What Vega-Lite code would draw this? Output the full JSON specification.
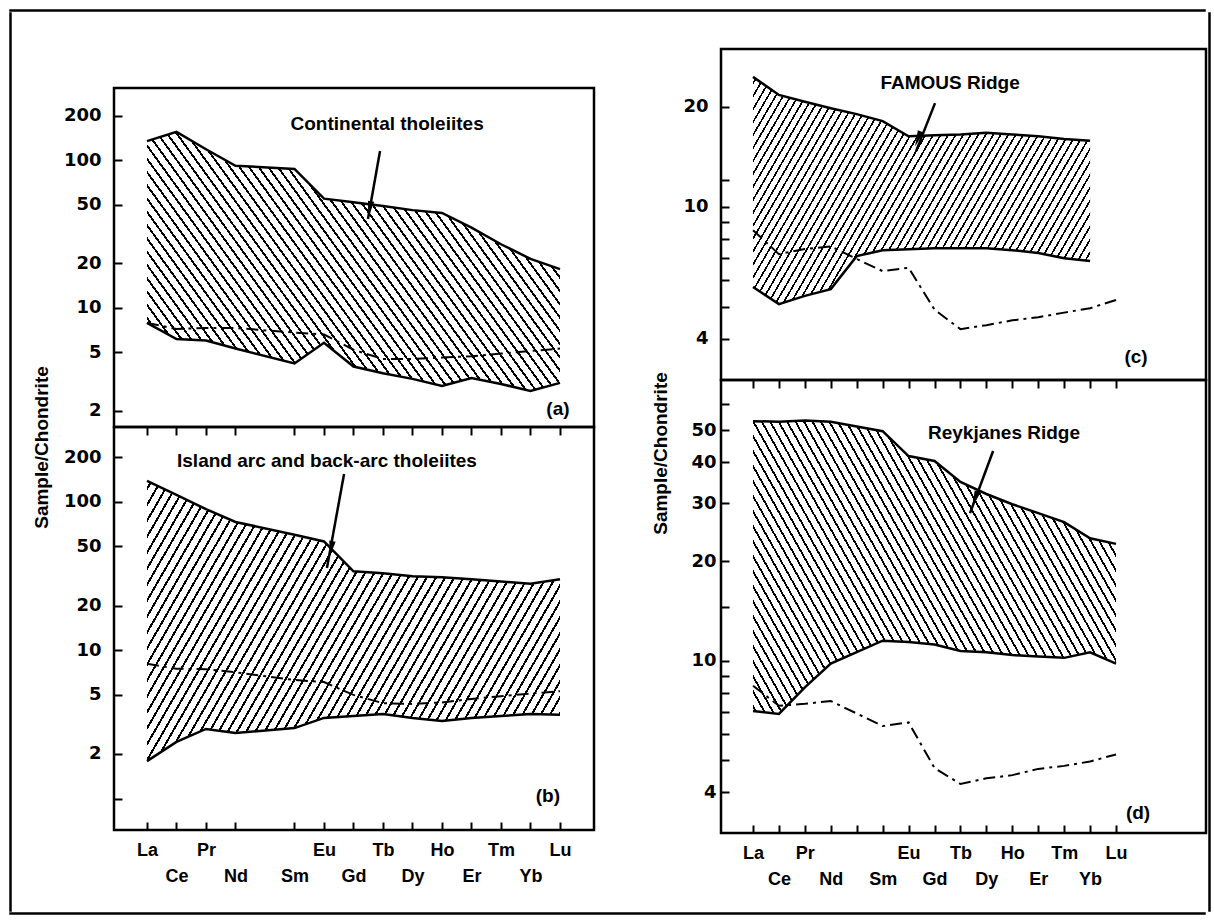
{
"$schema": "https://vega.github.io/schema/vega-lite/v6.json",
"padding": {"left": 9, "top": 9, "right": 5, "bottom": 5},
"background": "white",
"spacing": 0,
"datasets": {
"a": [
{"el":"La","i":0,"hi":135,"lo":7.9,"m":7.9},
{"el":"Ce","i":1,"hi":156,"lo":6.15,"m":7.2},
{"el":"Pr","i":2,"hi":119,"lo":6.0,"m":7.3},
{"el":"Nd","i":3,"hi":92,"lo":5.3,"m":7.3},
{"el":"Sm","i":5,"hi":87.5,"lo":4.2,"m":6.8},
{"el":"Eu","i":6,"hi":55,"lo":5.8,"m":6.6},
{"el":"Gd","i":7,"hi":52,"lo":4.0,"m":5.2},
{"el":"Tb","i":8,"hi":49,"lo":3.6,"m":4.5},
{"el":"Dy","i":9,"hi":46,"lo":3.3,"m":4.5},
{"el":"Ho","i":10,"hi":44,"lo":2.95,"m":4.6},
{"el":"Er","i":11,"hi":35,"lo":3.35,"m":4.7},
{"el":"Tm","i":12,"hi":27,"lo":3.05,"m":4.9},
{"el":"Yb","i":13,"hi":21.5,"lo":2.73,"m":5.1},
{"el":"Lu","i":14,"hi":18.3,"lo":3.1,"m":5.3}
],
"b": [
{"el":"La","i":0,"hi":138,"lo":1.79,"m":8.1},
{"el":"Ce","i":1,"hi":111,"lo":2.41,"m":7.5},
{"el":"Pr","i":2,"hi":89,"lo":2.95,"m":7.45},
{"el":"Nd","i":3,"hi":73,"lo":2.77,"m":7.1},
{"el":"Sm","i":5,"hi":60,"lo":2.99,"m":6.3},
{"el":"Eu","i":6,"hi":54,"lo":3.5,"m":6.1},
{"el":"Gd","i":7,"hi":34,"lo":3.6,"m":5.0},
{"el":"Tb","i":8,"hi":33,"lo":3.72,"m":4.4},
{"el":"Dy","i":9,"hi":31.5,"lo":3.5,"m":4.35},
{"el":"Ho","i":10,"hi":31,"lo":3.34,"m":4.45},
{"el":"Er","i":11,"hi":30,"lo":3.5,"m":4.7},
{"el":"Tm","i":12,"hi":29,"lo":3.6,"m":4.9},
{"el":"Yb","i":13,"hi":28,"lo":3.72,"m":5.1},
{"el":"Lu","i":14,"hi":30,"lo":3.67,"m":5.3}
],
"c": [
{"el":"La","i":0,"hi":24.6,"lo":5.73,"m":8.5},
{"el":"Ce","i":1,"hi":21.7,"lo":5.09,"m":7.2},
{"el":"Pr","i":2,"hi":20.7,"lo":5.39,"m":7.46},
{"el":"Nd","i":3,"hi":19.8,"lo":5.65,"m":7.6},
{"el":"Pm","i":4,"hi":19.0,"lo":7.1,"m":6.96},
{"el":"Sm","i":5,"hi":18.1,"lo":7.4,"m":6.4},
{"el":"Eu","i":6,"hi":16.3,"lo":7.45,"m":6.55},
{"el":"Gd","i":7,"hi":16.4,"lo":7.5,"m":4.9},
{"el":"Tb","i":8,"hi":16.5,"lo":7.5,"m":4.28},
{"el":"Dy","i":9,"hi":16.7,"lo":7.5,"m":4.4},
{"el":"Ho","i":10,"hi":16.5,"lo":7.4,"m":4.55},
{"el":"Er","i":11,"hi":16.3,"lo":7.26,"m":4.65},
{"el":"Tm","i":12,"hi":16.0,"lo":7.0,"m":4.8},
{"el":"Yb","i":13,"hi":15.8,"lo":6.86,"m":4.95},
{"el":"Lu","i":14,"hi":null,"lo":null,"m":5.24}
],
"d": [
{"el":"La","i":0,"hi":53.2,"lo":7.04,"m":8.4},
{"el":"Ce","i":1,"hi":53,"lo":6.9,"m":7.3},
{"el":"Pr","i":2,"hi":53.4,"lo":8.3,"m":7.4},
{"el":"Nd","i":3,"hi":53,"lo":9.8,"m":7.55},
{"el":"Sm","i":5,"hi":49.6,"lo":11.5,"m":6.34},
{"el":"Eu","i":6,"hi":41.7,"lo":11.4,"m":6.5},
{"el":"Gd","i":7,"hi":40.3,"lo":11.2,"m":4.73},
{"el":"Tb","i":8,"hi":34.8,"lo":10.7,"m":4.23},
{"el":"Dy","i":9,"hi":32,"lo":10.6,"m":4.4},
{"el":"Ho","i":10,"hi":29.8,"lo":10.4,"m":4.5},
{"el":"Er","i":11,"hi":28,"lo":10.3,"m":4.7},
{"el":"Tm","i":12,"hi":26.3,"lo":10.2,"m":4.8},
{"el":"Yb","i":13,"hi":23.5,"lo":10.6,"m":4.95},
{"el":"Lu","i":14,"hi":22.6,"lo":9.8,"m":5.2}
],
"ann": [
{"p":"a","label":"Continental tholeiites","tx":8.14,"ty":176.5,"x1":7.9,"y1":115.8,"x2":7.49,"y2":40.1,"hx":7.55,"hy":46.7,"tag":"(a)","gx":13.93,"gy":2.06},
{"p":"b","label":"Island arc and back-arc tholeiites","tx":6.1,"ty":188,"x1":6.68,"y1":153.6,"x2":6.1,"y2":35.8,"hx":6.24,"hy":48,"tag":"(b)","gx":13.59,"gy":1.04},
{"p":"c","label":"FAMOUS Ridge","tx":7.6,"ty":23.6,"x1":7.02,"y1":20.5,"x2":6.29,"y2":14.7,"hx":6.36,"hy":16.0,"tag":"(c)","gx":14.77,"gy":3.53},
{"p":"d","label":"Reykjanes Ridge","tx":9.68,"ty":49,"x1":9.26,"y1":43.2,"x2":8.37,"y2":28.0,"hx":8.56,"hy":30.9,"tag":"(d)","gx":14.85,"gy":3.46}
]
},
"config": {
"view": {"stroke": "black", "strokeWidth": 2.5},
"font": "Liberation Sans",
"axis": {"domain": false, "grid": false, "tickColor": "black", "tickWidth": 2, "labelColor": "black", "labelFont": "Liberation Sans", "labelFontSize": 18, "labelFontWeight": "bold", "labelFlush": false, "labelOverlap": false, "titleFont": "Liberation Sans", "titleFontSize": 19, "titleFontWeight": "bold", "titleColor": "black"},
"style": {
"hatchA": {"color": {"gradient": "linear", "x1": 0, "y1": 1, "x2": 1.2055, "y2": 0.452, "stops": [
{"offset":0.006,"color":"#fff"},{"offset":0.006,"color":"#000"},{"offset":0.01,"color":"#000"},{"offset":0.01,"color":"#fff"},
{"offset":0.022,"color":"#fff"},{"offset":0.022,"color":"#000"},{"offset":0.026,"color":"#000"},{"offset":0.026,"color":"#fff"},
{"offset":0.038,"color":"#fff"},{"offset":0.038,"color":"#000"},{"offset":0.042,"color":"#000"},{"offset":0.042,"color":"#fff"},
{"offset":0.054,"color":"#fff"},{"offset":0.054,"color":"#000"},{"offset":0.058,"color":"#000"},{"offset":0.058,"color":"#fff"},
{"offset":0.07,"color":"#fff"},{"offset":0.07,"color":"#000"},{"offset":0.074,"color":"#000"},{"offset":0.074,"color":"#fff"},
{"offset":0.086,"color":"#fff"},{"offset":0.086,"color":"#000"},{"offset":0.09,"color":"#000"},{"offset":0.09,"color":"#fff"},
{"offset":0.102,"color":"#fff"},{"offset":0.102,"color":"#000"},{"offset":0.106,"color":"#000"},{"offset":0.106,"color":"#fff"},
{"offset":0.118,"color":"#fff"},{"offset":0.118,"color":"#000"},{"offset":0.122,"color":"#000"},{"offset":0.122,"color":"#fff"},
{"offset":0.134,"color":"#fff"},{"offset":0.134,"color":"#000"},{"offset":0.138,"color":"#000"},{"offset":0.138,"color":"#fff"},
{"offset":0.15,"color":"#fff"},{"offset":0.15,"color":"#000"},{"offset":0.154,"color":"#000"},{"offset":0.154,"color":"#fff"},
{"offset":0.166,"color":"#fff"},{"offset":0.166,"color":"#000"},{"offset":0.17,"color":"#000"},{"offset":0.17,"color":"#fff"},
{"offset":0.182,"color":"#fff"},{"offset":0.182,"color":"#000"},{"offset":0.186,"color":"#000"},{"offset":0.186,"color":"#fff"},
{"offset":0.198,"color":"#fff"},{"offset":0.198,"color":"#000"},{"offset":0.202,"color":"#000"},{"offset":0.202,"color":"#fff"},
{"offset":0.214,"color":"#fff"},{"offset":0.214,"color":"#000"},{"offset":0.218,"color":"#000"},{"offset":0.218,"color":"#fff"},
{"offset":0.23,"color":"#fff"},{"offset":0.23,"color":"#000"},{"offset":0.234,"color":"#000"},{"offset":0.234,"color":"#fff"},
{"offset":0.246,"color":"#fff"},{"offset":0.246,"color":"#000"},{"offset":0.25,"color":"#000"},{"offset":0.25,"color":"#fff"},
{"offset":0.262,"color":"#fff"},{"offset":0.262,"color":"#000"},{"offset":0.266,"color":"#000"},{"offset":0.266,"color":"#fff"},
{"offset":0.278,"color":"#fff"},{"offset":0.278,"color":"#000"},{"offset":0.282,"color":"#000"},{"offset":0.282,"color":"#fff"},
{"offset":0.294,"color":"#fff"},{"offset":0.294,"color":"#000"},{"offset":0.298,"color":"#000"},{"offset":0.298,"color":"#fff"},
{"offset":0.31,"color":"#fff"},{"offset":0.31,"color":"#000"},{"offset":0.314,"color":"#000"},{"offset":0.314,"color":"#fff"},
{"offset":0.326,"color":"#fff"},{"offset":0.326,"color":"#000"},{"offset":0.33,"color":"#000"},{"offset":0.33,"color":"#fff"},
{"offset":0.342,"color":"#fff"},{"offset":0.342,"color":"#000"},{"offset":0.346,"color":"#000"},{"offset":0.346,"color":"#fff"},
{"offset":0.358,"color":"#fff"},{"offset":0.358,"color":"#000"},{"offset":0.362,"color":"#000"},{"offset":0.362,"color":"#fff"},
{"offset":0.374,"color":"#fff"},{"offset":0.374,"color":"#000"},{"offset":0.378,"color":"#000"},{"offset":0.378,"color":"#fff"},
{"offset":0.39,"color":"#fff"},{"offset":0.39,"color":"#000"},{"offset":0.394,"color":"#000"},{"offset":0.394,"color":"#fff"},
{"offset":0.406,"color":"#fff"},{"offset":0.406,"color":"#000"},{"offset":0.41,"color":"#000"},{"offset":0.41,"color":"#fff"},
{"offset":0.422,"color":"#fff"},{"offset":0.422,"color":"#000"},{"offset":0.426,"color":"#000"},{"offset":0.426,"color":"#fff"},
{"offset":0.438,"color":"#fff"},{"offset":0.438,"color":"#000"},{"offset":0.442,"color":"#000"},{"offset":0.442,"color":"#fff"},
{"offset":0.454,"color":"#fff"},{"offset":0.454,"color":"#000"},{"offset":0.458,"color":"#000"},{"offset":0.458,"color":"#fff"},
{"offset":0.47,"color":"#fff"},{"offset":0.47,"color":"#000"},{"offset":0.474,"color":"#000"},{"offset":0.474,"color":"#fff"},
{"offset":0.486,"color":"#fff"},{"offset":0.486,"color":"#000"},{"offset":0.49,"color":"#000"},{"offset":0.49,"color":"#fff"},
{"offset":0.502,"color":"#fff"},{"offset":0.502,"color":"#000"},{"offset":0.506,"color":"#000"},{"offset":0.506,"color":"#fff"},
{"offset":0.518,"color":"#fff"},{"offset":0.518,"color":"#000"},{"offset":0.522,"color":"#000"},{"offset":0.522,"color":"#fff"},
{"offset":0.534,"color":"#fff"},{"offset":0.534,"color":"#000"},{"offset":0.538,"color":"#000"},{"offset":0.538,"color":"#fff"},
{"offset":0.55,"color":"#fff"},{"offset":0.55,"color":"#000"},{"offset":0.554,"color":"#000"},{"offset":0.554,"color":"#fff"},
{"offset":0.566,"color":"#fff"},{"offset":0.566,"color":"#000"},{"offset":0.57,"color":"#000"},{"offset":0.57,"color":"#fff"},
{"offset":0.582,"color":"#fff"},{"offset":0.582,"color":"#000"},{"offset":0.586,"color":"#000"},{"offset":0.586,"color":"#fff"},
{"offset":0.598,"color":"#fff"},{"offset":0.598,"color":"#000"},{"offset":0.602,"color":"#000"},{"offset":0.602,"color":"#fff"},
{"offset":0.614,"color":"#fff"},{"offset":0.614,"color":"#000"},{"offset":0.618,"color":"#000"},{"offset":0.618,"color":"#fff"},
{"offset":0.63,"color":"#fff"},{"offset":0.63,"color":"#000"},{"offset":0.634,"color":"#000"},{"offset":0.634,"color":"#fff"},
{"offset":0.646,"color":"#fff"},{"offset":0.646,"color":"#000"},{"offset":0.65,"color":"#000"},{"offset":0.65,"color":"#fff"},
{"offset":0.662,"color":"#fff"},{"offset":0.662,"color":"#000"},{"offset":0.666,"color":"#000"},{"offset":0.666,"color":"#fff"},
{"offset":0.678,"color":"#fff"},{"offset":0.678,"color":"#000"},{"offset":0.682,"color":"#000"},{"offset":0.682,"color":"#fff"},
{"offset":0.694,"color":"#fff"},{"offset":0.694,"color":"#000"},{"offset":0.698,"color":"#000"},{"offset":0.698,"color":"#fff"},
{"offset":0.71,"color":"#fff"},{"offset":0.71,"color":"#000"},{"offset":0.714,"color":"#000"},{"offset":0.714,"color":"#fff"},
{"offset":0.726,"color":"#fff"},{"offset":0.726,"color":"#000"},{"offset":0.73,"color":"#000"},{"offset":0.73,"color":"#fff"},
{"offset":0.742,"color":"#fff"},{"offset":0.742,"color":"#000"},{"offset":0.746,"color":"#000"},{"offset":0.746,"color":"#fff"},
{"offset":0.758,"color":"#fff"},{"offset":0.758,"color":"#000"},{"offset":0.762,"color":"#000"},{"offset":0.762,"color":"#fff"},
{"offset":0.774,"color":"#fff"},{"offset":0.774,"color":"#000"},{"offset":0.778,"color":"#000"},{"offset":0.778,"color":"#fff"},
{"offset":0.79,"color":"#fff"},{"offset":0.79,"color":"#000"},{"offset":0.794,"color":"#000"},{"offset":0.794,"color":"#fff"},
{"offset":0.806,"color":"#fff"},{"offset":0.806,"color":"#000"},{"offset":0.81,"color":"#000"},{"offset":0.81,"color":"#fff"},
{"offset":0.822,"color":"#fff"},{"offset":0.822,"color":"#000"},{"offset":0.826,"color":"#000"},{"offset":0.826,"color":"#fff"},
{"offset":0.838,"color":"#fff"},{"offset":0.838,"color":"#000"},{"offset":0.842,"color":"#000"},{"offset":0.842,"color":"#fff"},
{"offset":0.854,"color":"#fff"},{"offset":0.854,"color":"#000"},{"offset":0.858,"color":"#000"},{"offset":0.858,"color":"#fff"},
{"offset":0.87,"color":"#fff"},{"offset":0.87,"color":"#000"},{"offset":0.874,"color":"#000"},{"offset":0.874,"color":"#fff"},
{"offset":0.886,"color":"#fff"},{"offset":0.886,"color":"#000"},{"offset":0.89,"color":"#000"},{"offset":0.89,"color":"#fff"},
{"offset":0.902,"color":"#fff"},{"offset":0.902,"color":"#000"},{"offset":0.906,"color":"#000"},{"offset":0.906,"color":"#fff"},
{"offset":0.918,"color":"#fff"},{"offset":0.918,"color":"#000"},{"offset":0.922,"color":"#000"},{"offset":0.922,"color":"#fff"},
{"offset":0.934,"color":"#fff"},{"offset":0.934,"color":"#000"},{"offset":0.938,"color":"#000"},{"offset":0.938,"color":"#fff"},
{"offset":0.95,"color":"#fff"},{"offset":0.95,"color":"#000"},{"offset":0.954,"color":"#000"},{"offset":0.954,"color":"#fff"},
{"offset":0.966,"color":"#fff"},{"offset":0.966,"color":"#000"},{"offset":0.97,"color":"#000"},{"offset":0.97,"color":"#fff"},
{"offset":0.982,"color":"#fff"},{"offset":0.982,"color":"#000"},{"offset":0.986,"color":"#000"},{"offset":0.986,"color":"#fff"}
]}},
"hatchB": {"color": {"gradient": "linear", "x1": 0, "y1": 0, "x2": 1.2065, "y2": 0.4713, "stops": [
{"offset":0.006,"color":"#fff"},{"offset":0.006,"color":"#000"},{"offset":0.01,"color":"#000"},{"offset":0.01,"color":"#fff"},
{"offset":0.022,"color":"#fff"},{"offset":0.022,"color":"#000"},{"offset":0.026,"color":"#000"},{"offset":0.026,"color":"#fff"},
{"offset":0.038,"color":"#fff"},{"offset":0.038,"color":"#000"},{"offset":0.042,"color":"#000"},{"offset":0.042,"color":"#fff"},
{"offset":0.054,"color":"#fff"},{"offset":0.054,"color":"#000"},{"offset":0.058,"color":"#000"},{"offset":0.058,"color":"#fff"},
{"offset":0.07,"color":"#fff"},{"offset":0.07,"color":"#000"},{"offset":0.074,"color":"#000"},{"offset":0.074,"color":"#fff"},
{"offset":0.086,"color":"#fff"},{"offset":0.086,"color":"#000"},{"offset":0.09,"color":"#000"},{"offset":0.09,"color":"#fff"},
{"offset":0.102,"color":"#fff"},{"offset":0.102,"color":"#000"},{"offset":0.106,"color":"#000"},{"offset":0.106,"color":"#fff"},
{"offset":0.118,"color":"#fff"},{"offset":0.118,"color":"#000"},{"offset":0.122,"color":"#000"},{"offset":0.122,"color":"#fff"},
{"offset":0.134,"color":"#fff"},{"offset":0.134,"color":"#000"},{"offset":0.138,"color":"#000"},{"offset":0.138,"color":"#fff"},
{"offset":0.15,"color":"#fff"},{"offset":0.15,"color":"#000"},{"offset":0.154,"color":"#000"},{"offset":0.154,"color":"#fff"},
{"offset":0.166,"color":"#fff"},{"offset":0.166,"color":"#000"},{"offset":0.17,"color":"#000"},{"offset":0.17,"color":"#fff"},
{"offset":0.182,"color":"#fff"},{"offset":0.182,"color":"#000"},{"offset":0.186,"color":"#000"},{"offset":0.186,"color":"#fff"},
{"offset":0.198,"color":"#fff"},{"offset":0.198,"color":"#000"},{"offset":0.202,"color":"#000"},{"offset":0.202,"color":"#fff"},
{"offset":0.214,"color":"#fff"},{"offset":0.214,"color":"#000"},{"offset":0.218,"color":"#000"},{"offset":0.218,"color":"#fff"},
{"offset":0.23,"color":"#fff"},{"offset":0.23,"color":"#000"},{"offset":0.234,"color":"#000"},{"offset":0.234,"color":"#fff"},
{"offset":0.246,"color":"#fff"},{"offset":0.246,"color":"#000"},{"offset":0.25,"color":"#000"},{"offset":0.25,"color":"#fff"},
{"offset":0.262,"color":"#fff"},{"offset":0.262,"color":"#000"},{"offset":0.266,"color":"#000"},{"offset":0.266,"color":"#fff"},
{"offset":0.278,"color":"#fff"},{"offset":0.278,"color":"#000"},{"offset":0.282,"color":"#000"},{"offset":0.282,"color":"#fff"},
{"offset":0.294,"color":"#fff"},{"offset":0.294,"color":"#000"},{"offset":0.298,"color":"#000"},{"offset":0.298,"color":"#fff"},
{"offset":0.31,"color":"#fff"},{"offset":0.31,"color":"#000"},{"offset":0.314,"color":"#000"},{"offset":0.314,"color":"#fff"},
{"offset":0.326,"color":"#fff"},{"offset":0.326,"color":"#000"},{"offset":0.33,"color":"#000"},{"offset":0.33,"color":"#fff"},
{"offset":0.342,"color":"#fff"},{"offset":0.342,"color":"#000"},{"offset":0.346,"color":"#000"},{"offset":0.346,"color":"#fff"},
{"offset":0.358,"color":"#fff"},{"offset":0.358,"color":"#000"},{"offset":0.362,"color":"#000"},{"offset":0.362,"color":"#fff"},
{"offset":0.374,"color":"#fff"},{"offset":0.374,"color":"#000"},{"offset":0.378,"color":"#000"},{"offset":0.378,"color":"#fff"},
{"offset":0.39,"color":"#fff"},{"offset":0.39,"color":"#000"},{"offset":0.394,"color":"#000"},{"offset":0.394,"color":"#fff"},
{"offset":0.406,"color":"#fff"},{"offset":0.406,"color":"#000"},{"offset":0.41,"color":"#000"},{"offset":0.41,"color":"#fff"},
{"offset":0.422,"color":"#fff"},{"offset":0.422,"color":"#000"},{"offset":0.426,"color":"#000"},{"offset":0.426,"color":"#fff"},
{"offset":0.438,"color":"#fff"},{"offset":0.438,"color":"#000"},{"offset":0.442,"color":"#000"},{"offset":0.442,"color":"#fff"},
{"offset":0.454,"color":"#fff"},{"offset":0.454,"color":"#000"},{"offset":0.458,"color":"#000"},{"offset":0.458,"color":"#fff"},
{"offset":0.47,"color":"#fff"},{"offset":0.47,"color":"#000"},{"offset":0.474,"color":"#000"},{"offset":0.474,"color":"#fff"},
{"offset":0.486,"color":"#fff"},{"offset":0.486,"color":"#000"},{"offset":0.49,"color":"#000"},{"offset":0.49,"color":"#fff"},
{"offset":0.502,"color":"#fff"},{"offset":0.502,"color":"#000"},{"offset":0.506,"color":"#000"},{"offset":0.506,"color":"#fff"},
{"offset":0.518,"color":"#fff"},{"offset":0.518,"color":"#000"},{"offset":0.522,"color":"#000"},{"offset":0.522,"color":"#fff"},
{"offset":0.534,"color":"#fff"},{"offset":0.534,"color":"#000"},{"offset":0.538,"color":"#000"},{"offset":0.538,"color":"#fff"},
{"offset":0.55,"color":"#fff"},{"offset":0.55,"color":"#000"},{"offset":0.554,"color":"#000"},{"offset":0.554,"color":"#fff"},
{"offset":0.566,"color":"#fff"},{"offset":0.566,"color":"#000"},{"offset":0.57,"color":"#000"},{"offset":0.57,"color":"#fff"},
{"offset":0.582,"color":"#fff"},{"offset":0.582,"color":"#000"},{"offset":0.586,"color":"#000"},{"offset":0.586,"color":"#fff"},
{"offset":0.598,"color":"#fff"},{"offset":0.598,"color":"#000"},{"offset":0.602,"color":"#000"},{"offset":0.602,"color":"#fff"},
{"offset":0.614,"color":"#fff"},{"offset":0.614,"color":"#000"},{"offset":0.618,"color":"#000"},{"offset":0.618,"color":"#fff"},
{"offset":0.63,"color":"#fff"},{"offset":0.63,"color":"#000"},{"offset":0.634,"color":"#000"},{"offset":0.634,"color":"#fff"},
{"offset":0.646,"color":"#fff"},{"offset":0.646,"color":"#000"},{"offset":0.65,"color":"#000"},{"offset":0.65,"color":"#fff"},
{"offset":0.662,"color":"#fff"},{"offset":0.662,"color":"#000"},{"offset":0.666,"color":"#000"},{"offset":0.666,"color":"#fff"},
{"offset":0.678,"color":"#fff"},{"offset":0.678,"color":"#000"},{"offset":0.682,"color":"#000"},{"offset":0.682,"color":"#fff"},
{"offset":0.694,"color":"#fff"},{"offset":0.694,"color":"#000"},{"offset":0.698,"color":"#000"},{"offset":0.698,"color":"#fff"},
{"offset":0.71,"color":"#fff"},{"offset":0.71,"color":"#000"},{"offset":0.714,"color":"#000"},{"offset":0.714,"color":"#fff"},
{"offset":0.726,"color":"#fff"},{"offset":0.726,"color":"#000"},{"offset":0.73,"color":"#000"},{"offset":0.73,"color":"#fff"},
{"offset":0.742,"color":"#fff"},{"offset":0.742,"color":"#000"},{"offset":0.746,"color":"#000"},{"offset":0.746,"color":"#fff"},
{"offset":0.758,"color":"#fff"},{"offset":0.758,"color":"#000"},{"offset":0.762,"color":"#000"},{"offset":0.762,"color":"#fff"},
{"offset":0.774,"color":"#fff"},{"offset":0.774,"color":"#000"},{"offset":0.778,"color":"#000"},{"offset":0.778,"color":"#fff"},
{"offset":0.79,"color":"#fff"},{"offset":0.79,"color":"#000"},{"offset":0.794,"color":"#000"},{"offset":0.794,"color":"#fff"},
{"offset":0.806,"color":"#fff"},{"offset":0.806,"color":"#000"},{"offset":0.81,"color":"#000"},{"offset":0.81,"color":"#fff"},
{"offset":0.822,"color":"#fff"},{"offset":0.822,"color":"#000"},{"offset":0.826,"color":"#000"},{"offset":0.826,"color":"#fff"},
{"offset":0.838,"color":"#fff"},{"offset":0.838,"color":"#000"},{"offset":0.842,"color":"#000"},{"offset":0.842,"color":"#fff"},
{"offset":0.854,"color":"#fff"},{"offset":0.854,"color":"#000"},{"offset":0.858,"color":"#000"},{"offset":0.858,"color":"#fff"},
{"offset":0.87,"color":"#fff"},{"offset":0.87,"color":"#000"},{"offset":0.874,"color":"#000"},{"offset":0.874,"color":"#fff"},
{"offset":0.886,"color":"#fff"},{"offset":0.886,"color":"#000"},{"offset":0.89,"color":"#000"},{"offset":0.89,"color":"#fff"},
{"offset":0.902,"color":"#fff"},{"offset":0.902,"color":"#000"},{"offset":0.906,"color":"#000"},{"offset":0.906,"color":"#fff"},
{"offset":0.918,"color":"#fff"},{"offset":0.918,"color":"#000"},{"offset":0.922,"color":"#000"},{"offset":0.922,"color":"#fff"},
{"offset":0.934,"color":"#fff"},{"offset":0.934,"color":"#000"},{"offset":0.938,"color":"#000"},{"offset":0.938,"color":"#fff"},
{"offset":0.95,"color":"#fff"},{"offset":0.95,"color":"#000"},{"offset":0.954,"color":"#000"},{"offset":0.954,"color":"#fff"},
{"offset":0.966,"color":"#fff"},{"offset":0.966,"color":"#000"},{"offset":0.97,"color":"#000"},{"offset":0.97,"color":"#fff"},
{"offset":0.982,"color":"#fff"},{"offset":0.982,"color":"#000"},{"offset":0.986,"color":"#000"},{"offset":0.986,"color":"#fff"}
]}}
}
},
"vconcat": [
{"width": 1195, "height": 1, "view": {"stroke": "black", "strokeWidth": 1.5}, "data": {"values": []}, "mark": "point", "encoding": {}},
{
"hconcat": [
{
"hconcat": [
{"width": 1, "height": 898, "view": {"stroke": "black", "strokeWidth": 1.5}, "data": {"values": []}, "mark": "point", "encoding": {}},
{
"hconcat": [
{
"vconcat": [
{"width": 480, "height": 75, "view": {"stroke": null, "fill": "white"}, "data": {"values": []}, "mark": "point", "encoding": {}},
{
"width": 480, "height": 339,
"data": {"name": "a"},
"encoding": {"x": {"field": "i", "type": "quantitative", "scale": {"domain":[-1.1186,15.153],"nice":false,"zero":false}, "axis": null}},
"resolve": {"axis": {"y": "independent"}},
"layer": [
{"mark": {"type":"area","style":"hatchA","opacity":1}, "encoding": {"y": {"field":"lo","type":"quantitative","scale":{"type":"log","domain":[1.557,309.6],"nice":false},"axis":null}, "y2": {"field":"hi"}}},
{"mark": {"type":"line","color":"black","strokeWidth":2.5}, "encoding": {"y": {"field":"hi","type":"quantitative","scale":{"type":"log","domain":[1.557,309.6],"nice":false},"axis":{"orient":"left","values":[2,5,10,20,50,100,200],"tickSize":-8,"labelPadding":21,"labelFont":"DejaVu Sans","labelExpr":"'' + datum.value","title":"Sample/Chondrite","titleX":-73,"titleY":359,"titleAngle":270,"titleAlign":"center","titleBaseline":"middle"}}}},
{"mark": {"type":"line","color":"black","strokeWidth":2.5}, "encoding": {"y": {"field":"lo","type":"quantitative","scale":{"type":"log","domain":[1.557,309.6],"nice":false},"axis":null}}},
{"mark": {"type":"line","color":"black","strokeWidth":2,"strokeDash":[12,5,3,5]}, "encoding": {"y": {"field":"m","type":"quantitative","scale":{"type":"log","domain":[1.557,309.6],"nice":false},"axis":null}}},
{"data": {"name":"ann"}, "transform": [{"filter":"datum.p == 'a'"}], "mark": {"type":"text","font":"Liberation Sans","fontSize":19,"fontWeight":"bold","color":"black"}, "encoding": {"x": {"field":"tx","type":"quantitative","scale":{"domain":[-1.1186,15.153],"nice":false,"zero":false},"axis":null}, "y": {"field":"ty","type":"quantitative","scale":{"type":"log","domain":[1.557,309.6],"nice":false},"axis":null}, "text": {"field":"label"}}},
{"data": {"name":"ann"}, "transform": [{"filter":"datum.p == 'a'"}], "mark": {"type":"rule","color":"black","strokeWidth":2.5}, "encoding": {"x": {"field":"x1","type":"quantitative","scale":{"domain":[-1.1186,15.153],"nice":false,"zero":false},"axis":null}, "x2": {"field":"x2"}, "y": {"field":"y1","type":"quantitative","scale":{"type":"log","domain":[1.557,309.6],"nice":false},"axis":null}, "y2": {"field":"y2"}}},
{"data": {"name":"ann"}, "transform": [{"filter":"datum.p == 'a'"}], "mark": {"type":"point","shape":"M0,-1L-0.4,1L0.4,1Z","size":256,"angle":190,"filled":true,"color":"black","opacity":1}, "encoding": {"x": {"field":"hx","type":"quantitative","scale":{"domain":[-1.1186,15.153],"nice":false,"zero":false},"axis":null}, "y": {"field":"hy","type":"quantitative","scale":{"type":"log","domain":[1.557,309.6],"nice":false},"axis":null}}},
{"data": {"name":"ann"}, "transform": [{"filter":"datum.p == 'a'"}], "mark": {"type":"text","font":"Liberation Sans","fontSize":19,"fontWeight":"bold","color":"black"}, "encoding": {"x": {"field":"gx","type":"quantitative","scale":{"domain":[-1.1186,15.153],"nice":false,"zero":false},"axis":null}, "y": {"field":"gy","type":"quantitative","scale":{"type":"log","domain":[1.557,309.6],"nice":false},"axis":null}, "text": {"field":"tag"}}}
]
},
{
"width": 480, "height": 403,
"data": {"name": "b"},
"encoding": {"x": {"field": "i", "type": "quantitative", "scale": {"domain":[-1.1186,15.153],"nice":false,"zero":false}, "axis": null}},
"resolve": {"axis": {"x": "independent", "y": "independent"}},
"layer": [
{"mark": {"type":"area","style":"hatchB","opacity":1}, "encoding": {"x": {"field": "i", "type": "quantitative", "scale": {"domain":[-1.1186,15.153],"nice":false,"zero":false}, "axis": {"orient":"bottom","values":[0,1,2,3,5,6,7,8,9,10,11,12,13,14],"tickSize":-8,"labelExpr":"[['La'],['','Ce'],['Pr'],['','Nd'],[''],['','Sm'],['Eu'],['','Gd'],['Tb'],['','Dy'],['Ho'],['','Er'],['Tm'],['','Yb'],['Lu']][datum.value]","labelPadding":19,"labelLineHeight":26,"labelBaseline":"top","labelAlign":"center","title":null}}, "y": {"field":"lo","type":"quantitative","scale":{"type":"log","domain":[0.6155,318.5],"nice":false},"axis":null}, "y2": {"field":"hi"}}},
{"mark": {"type":"line","color":"black","strokeWidth":2.5}, "encoding": {"x": {"field": "i", "type": "quantitative", "scale": {"domain":[-1.1186,15.153],"nice":false,"zero":false}, "axis": {"orient":"top","values":[0,1,2,3,5,6,7,8,9,10,11,12,13,14],"tickSize":-8,"labels":false,"title":null}}, "y": {"field":"hi","type":"quantitative","scale":{"type":"log","domain":[0.6155,318.5],"nice":false},"axis":{"orient":"left","values":[1,2,5,10,20,50,100,200],"tickSize":-8,"labelPadding":21,"labelFont":"DejaVu Sans","labelExpr":"datum.value == 1 ? '' : '' + datum.value","title":null}}}},
{"mark": {"type":"line","color":"black","strokeWidth":2.5}, "encoding": {"y": {"field":"lo","type":"quantitative","scale":{"type":"log","domain":[0.6155,318.5],"nice":false},"axis":null}}},
{"mark": {"type":"line","color":"black","strokeWidth":2,"strokeDash":[12,5,3,5]}, "encoding": {"y": {"field":"m","type":"quantitative","scale":{"type":"log","domain":[0.6155,318.5],"nice":false},"axis":null}}},
{"data": {"name":"ann"}, "transform": [{"filter":"datum.p == 'b'"}], "mark": {"type":"text","font":"Liberation Sans","fontSize":19,"fontWeight":"bold","color":"black"}, "encoding": {"x": {"field":"tx","type":"quantitative","scale":{"domain":[-1.1186,15.153],"nice":false,"zero":false},"axis":null}, "y": {"field":"ty","type":"quantitative","scale":{"type":"log","domain":[0.6155,318.5],"nice":false},"axis":null}, "text": {"field":"label"}}},
{"data": {"name":"ann"}, "transform": [{"filter":"datum.p == 'b'"}], "mark": {"type":"rule","color":"black","strokeWidth":2.5}, "encoding": {"x": {"field":"x1","type":"quantitative","scale":{"domain":[-1.1186,15.153],"nice":false,"zero":false},"axis":null}, "x2": {"field":"x2"}, "y": {"field":"y1","type":"quantitative","scale":{"type":"log","domain":[0.6155,318.5],"nice":false},"axis":null}, "y2": {"field":"y2"}}},
{"data": {"name":"ann"}, "transform": [{"filter":"datum.p == 'b'"}], "mark": {"type":"point","shape":"M0,-1L-0.4,1L0.4,1Z","size":256,"angle":190,"filled":true,"color":"black","opacity":1}, "encoding": {"x": {"field":"hx","type":"quantitative","scale":{"domain":[-1.1186,15.153],"nice":false,"zero":false},"axis":null}, "y": {"field":"hy","type":"quantitative","scale":{"type":"log","domain":[0.6155,318.5],"nice":false},"axis":null}}},
{"data": {"name":"ann"}, "transform": [{"filter":"datum.p == 'b'"}], "mark": {"type":"text","font":"Liberation Sans","fontSize":19,"fontWeight":"bold","color":"black"}, "encoding": {"x": {"field":"gx","type":"quantitative","scale":{"domain":[-1.1186,15.153],"nice":false,"zero":false},"axis":null}, "y": {"field":"gy","type":"quantitative","scale":{"type":"log","domain":[0.6155,318.5],"nice":false},"axis":null}, "text": {"field":"tag"}}}
]
}
],
"spacing": 0,
"bounds": "flush"
},
{
"vconcat": [
{"width": 485, "height": 36, "view": {"stroke": null, "fill": "white"}, "data": {"values": []}, "mark": "point", "encoding": {}},
{
"width": 485, "height": 331,
"data": {"name": "c"},
"encoding": {"x": {"field": "i", "type": "quantitative", "scale": {"domain":[-1.234,17.47],"nice":false,"zero":false}, "axis": null}},
"resolve": {"axis": {"y": "independent"}},
"layer": [
{"transform": [{"filter": "isValid(datum.hi)"}], "mark": {"type":"area","style":"hatchB","opacity":1}, "encoding": {"y": {"field":"lo","type":"quantitative","scale":{"type":"log","domain":[3.009,29.84],"nice":false},"axis":null}, "y2": {"field":"hi"}}},
{"transform": [{"filter": "isValid(datum.hi)"}], "mark": {"type":"line","color":"black","strokeWidth":2.5}, "encoding": {"y": {"field":"hi","type":"quantitative","scale":{"type":"log","domain":[3.009,29.84],"nice":false},"axis":{"orient":"left","values":[4,5,6,7,8,9,10,12,20],"tickSize":-8,"labelPadding":21,"labelFont":"DejaVu Sans","labelExpr":"indexof([4,10,20], datum.value) >= 0 ? '' + datum.value : ''","title":"Sample/Chondrite","titleX":-61,"titleY":404,"titleAngle":270,"titleAlign":"center","titleBaseline":"middle"}}}},
{"transform": [{"filter": "isValid(datum.lo)"}], "mark": {"type":"line","color":"black","strokeWidth":2.5}, "encoding": {"y": {"field":"lo","type":"quantitative","scale":{"type":"log","domain":[3.009,29.84],"nice":false},"axis":null}}},
{"mark": {"type":"line","color":"black","strokeWidth":2,"strokeDash":[12,5,3,5]}, "encoding": {"y": {"field":"m","type":"quantitative","scale":{"type":"log","domain":[3.009,29.84],"nice":false},"axis":null}}},
{"data": {"name":"ann"}, "transform": [{"filter":"datum.p == 'c'"}], "mark": {"type":"text","font":"Liberation Sans","fontSize":19,"fontWeight":"bold","color":"black"}, "encoding": {"x": {"field":"tx","type":"quantitative","scale":{"domain":[-1.234,17.47],"nice":false,"zero":false},"axis":null}, "y": {"field":"ty","type":"quantitative","scale":{"type":"log","domain":[3.009,29.84],"nice":false},"axis":null}, "text": {"field":"label"}}},
{"data": {"name":"ann"}, "transform": [{"filter":"datum.p == 'c'"}], "mark": {"type":"rule","color":"black","strokeWidth":2.5}, "encoding": {"x": {"field":"x1","type":"quantitative","scale":{"domain":[-1.234,17.47],"nice":false,"zero":false},"axis":null}, "x2": {"field":"x2"}, "y": {"field":"y1","type":"quantitative","scale":{"type":"log","domain":[3.009,29.84],"nice":false},"axis":null}, "y2": {"field":"y2"}}},
{"data": {"name":"ann"}, "transform": [{"filter":"datum.p == 'c'"}], "mark": {"type":"point","shape":"M0,-1L-0.4,1L0.4,1Z","size":256,"angle":201,"filled":true,"color":"black","opacity":1}, "encoding": {"x": {"field":"hx","type":"quantitative","scale":{"domain":[-1.234,17.47],"nice":false,"zero":false},"axis":null}, "y": {"field":"hy","type":"quantitative","scale":{"type":"log","domain":[3.009,29.84],"nice":false},"axis":null}}},
{"data": {"name":"ann"}, "transform": [{"filter":"datum.p == 'c'"}], "mark": {"type":"text","font":"Liberation Sans","fontSize":19,"fontWeight":"bold","color":"black"}, "encoding": {"x": {"field":"gx","type":"quantitative","scale":{"domain":[-1.234,17.47],"nice":false,"zero":false},"axis":null}, "y": {"field":"gy","type":"quantitative","scale":{"type":"log","domain":[3.009,29.84],"nice":false},"axis":null}, "text": {"field":"tag"}}}
]
},
{
"width": 485, "height": 453,
"data": {"name": "d"},
"encoding": {"x": {"field": "i", "type": "quantitative", "scale": {"domain":[-1.234,17.47],"nice":false,"zero":false}, "axis": null}},
"resolve": {"axis": {"x": "independent", "y": "independent"}},
"layer": [
{"mark": {"type":"area","style":"hatchA","opacity":1}, "encoding": {"x": {"field": "i", "type": "quantitative", "scale": {"domain":[-1.234,17.47],"nice":false,"zero":false}, "axis": {"orient":"bottom","values":[0,1,2,3,4,5,6,7,8,9,10,11,12,13,14],"tickSize":-8,"labelExpr":"[['La'],['','Ce'],['Pr'],['','Nd'],[''],['','Sm'],['Eu'],['','Gd'],['Tb'],['','Dy'],['Ho'],['','Er'],['Tm'],['','Yb'],['Lu']][datum.value]","labelPadding":19,"labelLineHeight":26,"labelBaseline":"top","labelAlign":"center","title":null}}, "y": {"field":"lo","type":"quantitative","scale":{"type":"log","domain":[3.005,70.9],"nice":false},"axis":null}, "y2": {"field":"hi"}}},
{"mark": {"type":"line","color":"black","strokeWidth":2.5}, "encoding": {"x": {"field": "i", "type": "quantitative", "scale": {"domain":[-1.234,17.47],"nice":false,"zero":false}, "axis": {"orient":"top","values":[0,1,2,3,4,5,6,7,8,9,10,11,12,13,14],"tickSize":-8,"labels":false,"title":null}}, "y": {"field":"hi","type":"quantitative","scale":{"type":"log","domain":[3.005,70.9],"nice":false},"axis":{"orient":"left","values":[4,5,6,7,8,9,10,14.5,20,30,40,50,60],"tickSize":-8,"labelPadding":13,"labelFont":"DejaVu Sans","labelExpr":"indexof([4,10,20,30,40,50], datum.value) >= 0 ? '' + datum.value : ''","title":null}}}},
{"mark": {"type":"line","color":"black","strokeWidth":2.5}, "encoding": {"y": {"field":"lo","type":"quantitative","scale":{"type":"log","domain":[3.005,70.9],"nice":false},"axis":null}}},
{"mark": {"type":"line","color":"black","strokeWidth":2,"strokeDash":[12,5,3,5]}, "encoding": {"y": {"field":"m","type":"quantitative","scale":{"type":"log","domain":[3.005,70.9],"nice":false},"axis":null}}},
{"data": {"name":"ann"}, "transform": [{"filter":"datum.p == 'd'"}], "mark": {"type":"text","font":"Liberation Sans","fontSize":19,"fontWeight":"bold","color":"black"}, "encoding": {"x": {"field":"tx","type":"quantitative","scale":{"domain":[-1.234,17.47],"nice":false,"zero":false},"axis":null}, "y": {"field":"ty","type":"quantitative","scale":{"type":"log","domain":[3.005,70.9],"nice":false},"axis":null}, "text": {"field":"label"}}},
{"data": {"name":"ann"}, "transform": [{"filter":"datum.p == 'd'"}], "mark": {"type":"rule","color":"black","strokeWidth":2.5}, "encoding": {"x": {"field":"x1","type":"quantitative","scale":{"domain":[-1.234,17.47],"nice":false,"zero":false},"axis":null}, "x2": {"field":"x2"}, "y": {"field":"y1","type":"quantitative","scale":{"type":"log","domain":[3.005,70.9],"nice":false},"axis":null}, "y2": {"field":"y2"}}},
{"data": {"name":"ann"}, "transform": [{"filter":"datum.p == 'd'"}], "mark": {"type":"point","shape":"M0,-1L-0.4,1L0.4,1Z","size":256,"angle":200,"filled":true,"color":"black","opacity":1}, "encoding": {"x": {"field":"hx","type":"quantitative","scale":{"domain":[-1.234,17.47],"nice":false,"zero":false},"axis":null}, "y": {"field":"hy","type":"quantitative","scale":{"type":"log","domain":[3.005,70.9],"nice":false},"axis":null}}},
{"data": {"name":"ann"}, "transform": [{"filter":"datum.p == 'd'"}], "mark": {"type":"text","font":"Liberation Sans","fontSize":19,"fontWeight":"bold","color":"black"}, "encoding": {"x": {"field":"gx","type":"quantitative","scale":{"domain":[-1.234,17.47],"nice":false,"zero":false},"axis":null}, "y": {"field":"gy","type":"quantitative","scale":{"type":"log","domain":[3.005,70.9],"nice":false},"axis":null}, "text": {"field":"tag"}}}
]
}
],
"spacing": 0,
"bounds": "flush"
}
],
"spacing": 53
}
],
"spacing": 18
},
{"width": 1, "height": 898, "view": {"stroke": "black", "strokeWidth": 1.5}, "data": {"values": []}, "mark": "point", "encoding": {}}
],
"spacing": 0
},
{"width": 1195, "height": 1, "view": {"stroke": "black", "strokeWidth": 1.5}, "data": {"values": []}, "mark": "point", "encoding": {}}
]
}
